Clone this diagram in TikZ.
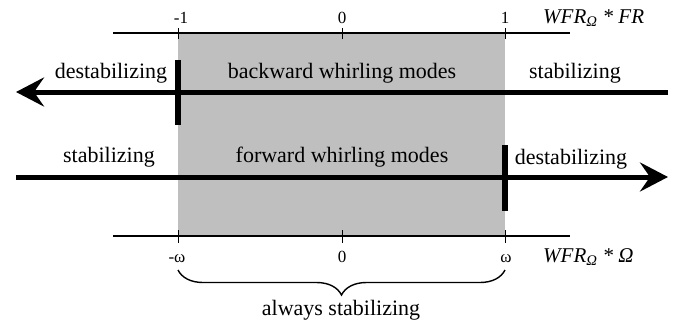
\documentclass[tikz,border=0pt]{standalone}
\usepackage{fontspec}
\setmainfont{Liberation Serif}
\usetikzlibrary{positioning}
\usetikzlibrary{calc}
\usetikzlibrary{arrows.meta}
\usetikzlibrary{decorations.pathreplacing}
\colorlet{band}{gray!50}

\begin{document}
\begin{tikzpicture}[x=1pt, y=-1pt,
        axis/.style={line width=1.4pt},
        tick/.style={line width=1pt},
        mode/.style={line width=5pt, -{Stealth[length=28pt, width=29pt, inset=10pt]}},
        bound/.style={line width=6pt},
        word/.style={font=\fontsize{22}{24}\selectfont, anchor=base, inner sep=0pt},
        num/.style={font=\fontsize{17}{19}\selectfont, anchor=base, inner sep=0pt},
        axlabel/.style={font=\fontsize{21}{23}\selectfont\itshape, anchor=base west, inner sep=0pt}]
            \useasboundingbox (0,0) rectangle (678,327);
            \fill [band] (178,33) rectangle (505,236);

            % upper axis
            \coordinate (frl) at (113,33);
            \coordinate (frr) at (570,33);
            \draw [axis] (frl) -- (frr);
            \foreach \x in {178,342,505}
                \draw [tick] (\x,28) -- (\x,39);
            \node [num] (frm) at (181,23) {-1};
            \node [num] (frz) at (342,23) {0};
            \node [num] (frp) at (505,23) {1};
            \node [axlabel] (frlab) at (543,23) {WFR\textsubscript{Ω} * FR};

            % backward modes
            \coordinate (bwr) at (668,92);
            \coordinate (bwl) at (16,92);
            \draw [mode] (bwr) -- (bwl);
            \coordinate (bwt) at (178,60);
            \coordinate (bwb) at (178,125);
            \draw [bound] (bwt) -- (bwb);
            \node [word] (bwdest) at (111,78) {destabilizing};
            \node [word] (bwtxt) at (342,78) {backward whirling modes};
            \node [word] (bwstab) at (575,78) {stabilizing};

            % forward modes
            \coordinate (fwl) at (16,177);
            \coordinate (fwr) at (668,177);
            \draw [mode] (fwl) -- (fwr);
            \coordinate (fwt) at (505,145);
            \coordinate (fwb) at (505,211);
            \draw [bound] (fwt) -- (fwb);
            \node [word] (fwstab) at (109,162) {stabilizing};
            \node [word] (fwtxt) at (342,162) {forward whirling modes};
            \node [word] (fwdest) at (571,164) {destabilizing};

            % lower axis
            \coordinate (oml) at (113,236);
            \coordinate (omr) at (570,236);
            \draw [axis] (oml) -- (omr);
            \foreach \x in {178,342,505}
                \draw [tick] (\x,230) -- (\x,243);
            \node [num] (omm) at (177,262) {-ω};
            \node [num] (omz) at (342,262) {0};
            \node [num] (omp) at (506,262) {ω};
            \node [axlabel] (omlab) at (543,262) {WFR\textsubscript{Ω} * Ω};

            % brace
            \coordinate (brl) at (178,270);
            \coordinate (brr) at (505,270);
            \draw [axis, decorate, decoration={brace, amplitude=25pt, mirror}] (brl) -- (brr);
            \node [word] (always) at (341,315) {always stabilizing};
        \end{tikzpicture}
\end{document}
